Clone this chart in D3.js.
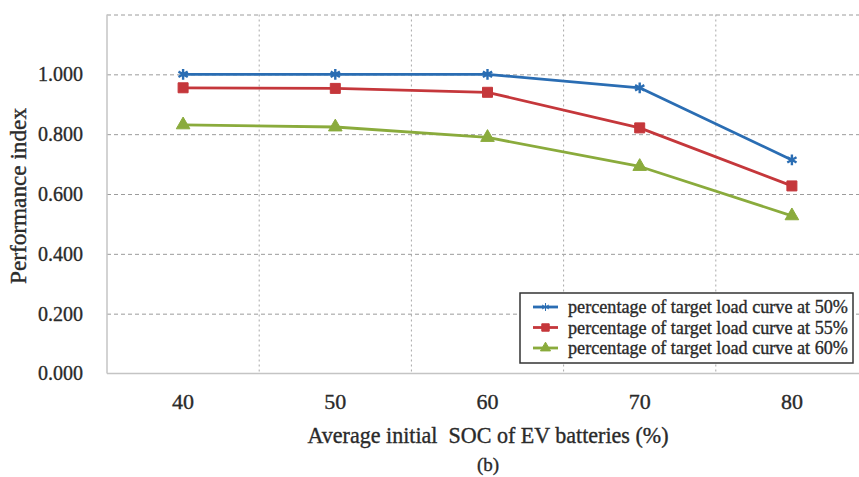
<!DOCTYPE html>
<html>
<head>
<meta charset="utf-8">
<script src="https://cdn.jsdelivr.net/npm/d3@7"></script>
<style>
  html, body { margin: 0; padding: 0; background: #fff; }
  svg { display: block; }
</style>
</head>
<body>
<svg id="chart" width="859" height="477"></svg>
<script>
// Average initial SOC of EV batteries (%)
const categories = ["40", "50", "60", "70", "80"];
// Performance index for each target load curve percentage
const series50 = [1.000, 1.000, 1.000, 0.955, 0.714];
const series55 = [0.955, 0.953, 0.940, 0.821, 0.627];
const series60 = [0.831, 0.824, 0.789, 0.692, 0.527];
const seriesNames = [
  "percentage of target load curve at 50%",
  "percentage of target load curve at 55%",
  "percentage of target load curve at 60%"
];
const yTicks = [0, 0.2, 0.4, 0.6, 0.8, 1.0, 1.2];
const yTickLabels = ["0.000", "0.200", "0.400", "0.600", "0.800", "1.000", ""];

const FONT = "Liberation Serif";
const INK = "#2a2a2a";

const series = [
  { name: seriesNames[0], values: series50, color: "#2a6db3", marker: "star" },
  { name: seriesNames[1], values: series55, color: "#c5373b", marker: "square" },
  { name: seriesNames[2], values: series60, color: "#8aab3c", marker: "triangle" }
];

const svg = d3.select("#chart");
const plot = { left: 107, right: 868, top: 14.5, bottom: 373.5 };

const x = d3.scaleBand().domain(categories).range([plot.left, plot.right]);
const y = d3.scaleLinear().domain([0, 1.2]).range([plot.bottom, plot.top]);

// shared text styling: serif face, slightly heavy ink
function ink(sel) {
  sel.attr("font-family", FONT).attr("fill", INK)
    .attr("stroke", INK).attr("stroke-width", 0.35);
}

// scale a text's font size so it spans the given width
function fitWidth(sel, width) {
  sel.each(function () {
    const t = d3.select(this);
    const base = 20;
    t.attr("font-size", base);
    const w = this.getComputedTextLength();
    t.attr("font-size", (base * width / w).toFixed(2));
  });
}

// horizontal grid
svg.append("g")
  .attr("transform", `translate(${plot.left},0)`)
  .call(d3.axisLeft(y).tickValues(yTicks.slice(1)).tickSize(-(plot.right - plot.left)).tickFormat(""))
  .call(g => g.select(".domain").remove())
  .call(g => g.selectAll("line").attr("stroke", "#9c9c9c").attr("stroke-width", 1).attr("stroke-dasharray", "4,3"));

// vertical grid between categories
const bounds = categories.slice(1).map(c => x(c));
svg.append("g").selectAll("line").data(bounds).join("line")
  .attr("x1", d => d).attr("x2", d => d)
  .attr("y1", plot.top).attr("y2", plot.bottom)
  .attr("stroke", "#a8a8a8").attr("stroke-width", 1).attr("stroke-dasharray", "2,3");

// axis lines
svg.append("line").attr("x1", plot.left).attr("x2", plot.left)
  .attr("y1", plot.top).attr("y2", plot.bottom)
  .attr("stroke", "#c4c4c4").attr("stroke-width", 1.5);
svg.append("line").attr("x1", plot.left).attr("x2", plot.right)
  .attr("y1", plot.bottom).attr("y2", plot.bottom)
  .attr("stroke", "#c4c4c4").attr("stroke-width", 1.5);

// y tick labels
svg.append("g")
  .attr("transform", `translate(${plot.left},0)`)
  .call(d3.axisLeft(y).tickValues(yTicks).tickSize(0).tickPadding(24)
    .tickFormat((d, i) => yTickLabels[i]))
  .attr("font-family", FONT)
  .call(g => g.select(".domain").remove())
  .call(g => g.selectAll("text").call(ink).call(fitWidth, 45));

// x tick labels
svg.append("g")
  .attr("transform", `translate(0,${plot.bottom})`)
  .call(d3.axisBottom(x).tickSize(0).tickPadding(20))
  .attr("font-family", FONT)
  .call(g => g.select(".domain").remove())
  .call(g => g.selectAll("text").call(ink).call(fitWidth, 22));

// axis titles
svg.append("text")
  .attr("transform", "translate(26,196) rotate(-90)")
  .attr("text-anchor", "middle")
  .call(ink)
  .text("Performance index")
  .call(fitWidth, 176);
svg.append("text")
  .attr("x", 488).attr("y", 443)
  .attr("text-anchor", "middle")
  .call(ink)
  .style("white-space", "pre")
  .text("Average initial  SOC of EV batteries (%)")
  .call(fitWidth, 361);
svg.append("text")
  .attr("x", 488).attr("y", 471)
  .attr("text-anchor", "middle")
  .call(ink)
  .attr("font-size", 19)
  .text("(b)");

// markers
const symbolFor = {
  star: d3.symbolAsterisk,
  square: d3.symbolSquare,
  triangle: d3.symbolTriangle
};
const sizeFor = { star: 80, square: 100, triangle: 80 };

const line = d3.line()
  .x((d, i) => x(categories[i]) + x.bandwidth() / 2)
  .y(d => y(d));

series.forEach(s => {
  svg.append("path")
    .datum(s.values)
    .attr("d", line)
    .attr("fill", "none")
    .attr("stroke", s.color)
    .attr("stroke-width", 2.8)
    .attr("stroke-linejoin", "round");
  svg.append("g").selectAll("path").data(s.values).join("path")
    .attr("transform", (d, i) => `translate(${x(categories[i]) + x.bandwidth() / 2},${y(d)})`)
    .attr("d", d3.symbol().type(symbolFor[s.marker]).size(sizeFor[s.marker]))
    .attr("fill", s.color)
    .attr("stroke", s.color)
    .attr("stroke-width", s.marker === "star" ? 2.4 : 1);
});

// legend
const legend = svg.append("g").attr("transform", "translate(520,293)");
legend.append("rect")
  .attr("width", 333).attr("height", 70)
  .attr("fill", "#fff").attr("stroke", "#333").attr("stroke-width", 1.5);
series.forEach((s, i) => {
  const row = legend.append("g").attr("transform", `translate(0,${14 + i * 20.5})`);
  row.append("line").attr("x1", 13).attr("x2", 38).attr("y1", 0).attr("y2", 0)
    .attr("stroke", s.color).attr("stroke-width", 2.8);
  row.append("path")
    .attr("transform", "translate(25.5,0)")
    .attr("d", d3.symbol().type(symbolFor[s.marker]).size(sizeFor[s.marker] * 0.55))
    .attr("fill", s.color).attr("stroke", s.color).attr("stroke-width", 1);
  row.append("text")
    .attr("x", 48).attr("y", 6)
    .call(ink)
    .text(s.name)
    .call(fitWidth, 280);
});
</script>
</body>
</html>
